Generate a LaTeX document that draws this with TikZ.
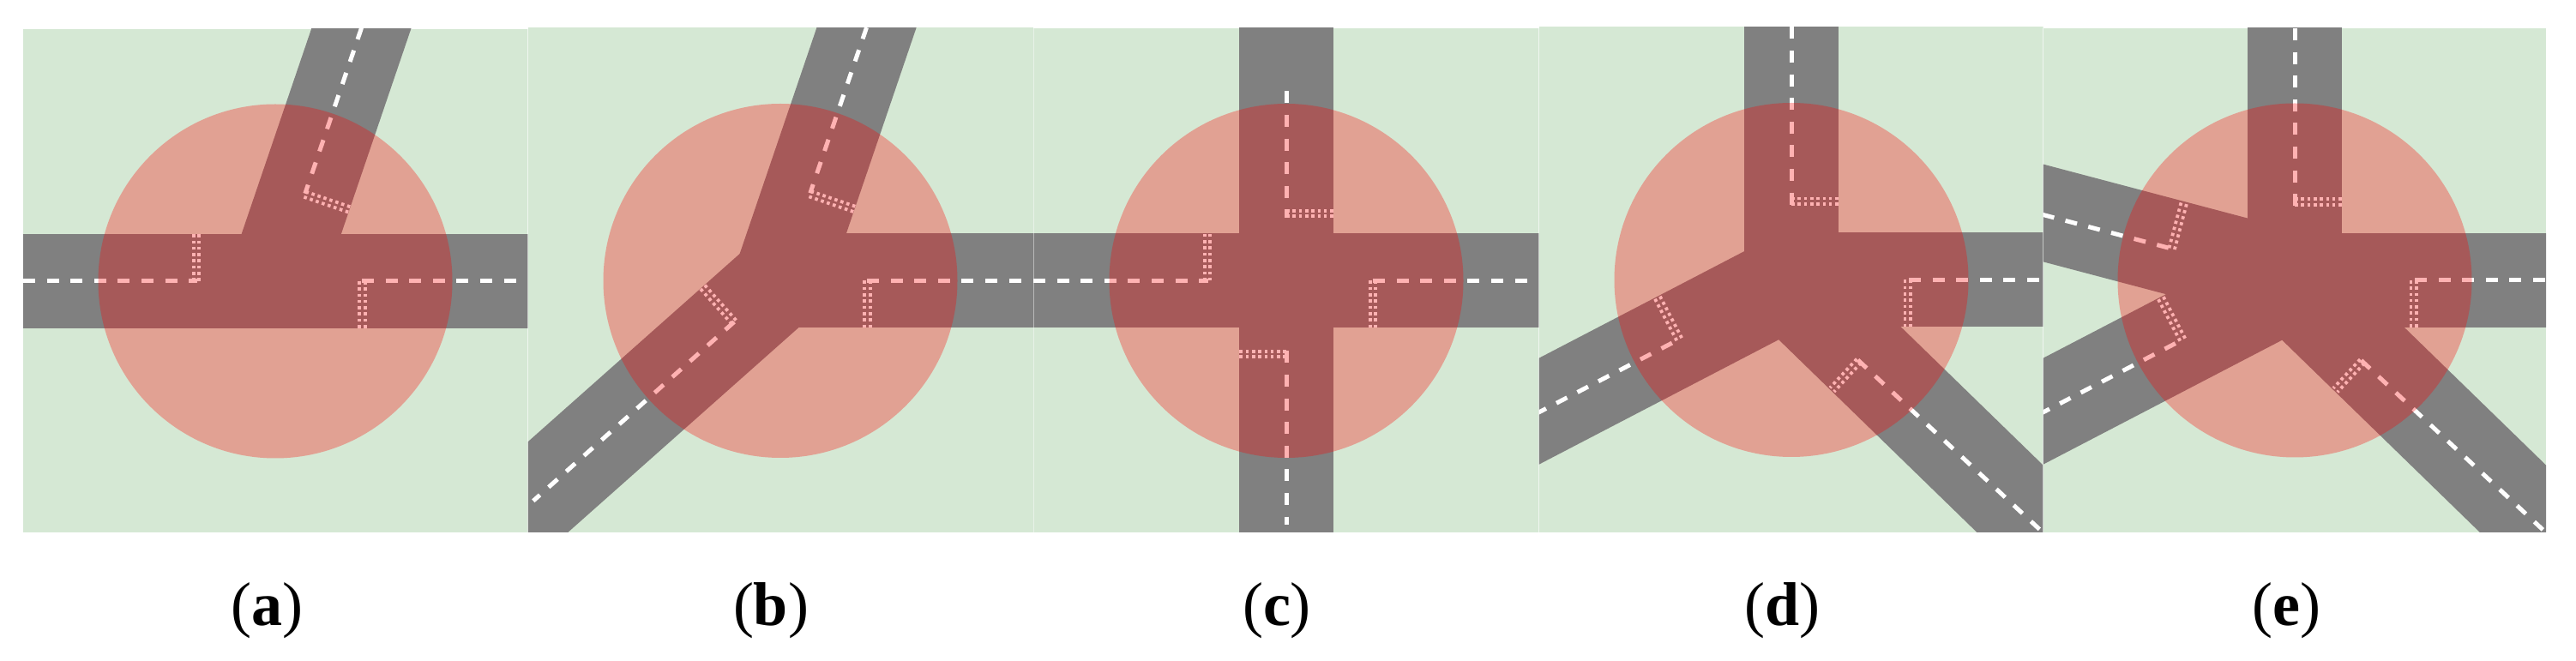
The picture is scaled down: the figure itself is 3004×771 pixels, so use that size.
\documentclass[tikz,border=0pt]{standalone}
\usepackage{tikz}
\usepackage{fontspec}
\setmainfont{Liberation Serif}

\definecolor{fieldgreen}{HTML}{D5E8D4}
\definecolor{roadgray}{HTML}{808080}

\tikzset{
  fieldbox/.style={fill=fieldgreen},
  road/.style={draw=roadgray,line width=55pt,line cap=round},
  lane/.style={draw=white,line width=2.5pt,dash pattern=on 7pt off 6.8pt},
  stopline/.style={draw=white,line width=1.9pt,dash pattern=on 1.8pt off 1.85pt},
  zone/.style={fill=red,fill opacity=0.3},
  seamline/.style={draw=white,line width=0.4pt,opacity=0.45},
  sublabel/.style={anchor=base,font=\fontsize{36}{40}\selectfont,inner sep=0pt}
}

% angle, offset, dash start, dash end, stop line position, stop line length
\newcommand{\lanearm}[6]{
  \begin{scope}[rotate=#1]
    \draw[lane] (#3,#2) -- (#4,#2);
    \draw[stopline] (#5-3.3,#2) -- (#5-3.3,#2-#6);
    \draw[stopline] (#5+3.3,#2) -- (#5+3.3,#2-#6);
  \end{scope}
}

\begin{document}
\begin{tikzpicture}[x=0.5pt,y=0.5pt]
\useasboundingbox (0,0) rectangle (3004,771);

% panel a
\begin{scope}
  \clip (27,150) rectangle (615.6,737);
  \fill[fieldbox] (27,150) rectangle (615.6,737);
  \begin{scope}[shift={(321,443)}]
    \foreach \ang/\off in {0/0,180/0,71.2/0}
      {\draw[road,rotate=\ang] (0,\off) -- (800,\off);}
    \lanearm{0}{0}{101}{282}{101.5}{55}
    \lanearm{180}{0}{294}{91}{92}{55}
    \lanearm{71.2}{0}{312}{108}{107}{55}
    \fill[zone] (0,0) circle (206.5);
  \end{scope}
\end{scope}

% panel b
\begin{scope}
  \clip (615.6,150) rectangle (1205,738.5);
  \fill[fieldbox] (615.6,150) rectangle (1205,738.5);
  \begin{scope}[shift={(910,443.5)}]
    \foreach \ang/\off in {0/0,71.2/0,221.6/0}
      {\draw[road,rotate=\ang] (0,\off) -- (800,\off);}
    \lanearm{0}{0}{101}{282}{101.5}{55}
    \lanearm{71.2}{0}{312}{108}{107}{55}
    \lanearm{221.7}{0}{72}{386}{72.5}{55}
    \fill[zone] (0,0) circle (206.5);
  \end{scope}
\end{scope}

% panel c
\begin{scope}
  \clip (1205,150) rectangle (1794.6,738);
  \fill[fieldbox] (1205,150) rectangle (1794.6,738);
  \begin{scope}[shift={(1500,443.5)}]
    \foreach \ang/\off in {0/0,90/0,180/0,270/0}
      {\draw[road,rotate=\ang] (0,\off) -- (800,\off);}
    \lanearm{0}{0}{101}{282}{101}{55}
    \lanearm{90}{0}{221}{73}{78.5}{55}
    \lanearm{180}{0}{295}{91}{92}{55}
    \lanearm{270}{0}{82}{285}{85.5}{55}
    \fill[zone] (0,0) circle (206.5);
  \end{scope}
\end{scope}

% panel d
\begin{scope}
  \clip (1794.6,150) rectangle (2382.6,739.5);
  \fill[fieldbox] (1794.6,150) rectangle (2382.6,739.5);
  \begin{scope}[shift={(2089,444.5)}]
    \foreach \ang/\off in {0/0,90/0,207.5/0,-44.2/-5.25}
      {\draw[road,rotate=\ang] (0,\off) -- (800,\off);}
    \lanearm{0}{0}{137}{290}{135.8}{55}
    \lanearm{90}{0}{295}{86}{91.7}{55}
    \lanearm{207.5}{1}{337}{147}{148}{55}
    \lanearm{-43}{-15.4}{120.4}{410}{122}{46}
    \fill[zone] (0,0) circle (206.5);
  \end{scope}
\end{scope}

% panel e
\begin{scope}
  \clip (2382.6,150) rectangle (2969,738);
  \fill[fieldbox] (2382.6,150) rectangle (2969,738);
  \begin{scope}[shift={(2676,444)}]
    \foreach \ang/\off in {0/0,90/0,165.2/-1,207.5/0,-44.2/-5.25}
      {\draw[road,rotate=\ang] (0,\off) -- (800,\off);}
    \lanearm{0}{0}{140}{293}{138.7}{55}
    \lanearm{90}{0}{294}{86}{91.5}{55}
    \lanearm{165.2}{1}{304}{148}{148}{56}
    \lanearm{207.5}{1}{337}{147}{148}{55}
    \lanearm{-43}{-15.4}{120.4}{410}{122}{46}
    \fill[zone] (0,0) circle (206.5);
  \end{scope}
\end{scope}

% faint joins between the panels
\foreach \seam in {615.6,1205,1794.6,2382.6}
  {\draw[seamline] (\seam,150) -- (\seam,738);}

\node[sublabel] (laba) at (311,41) {(\textbf{a})};
\node[sublabel] (labb) at (899,41) {(\textbf{b})};
\node[sublabel] (labc) at (1489,41) {(\textbf{c})};
\node[sublabel] (labd) at (2078,41) {(\textbf{d})};
\node[sublabel] (labe) at (2666,41) {(\textbf{e})};
\end{tikzpicture}
\end{document}
